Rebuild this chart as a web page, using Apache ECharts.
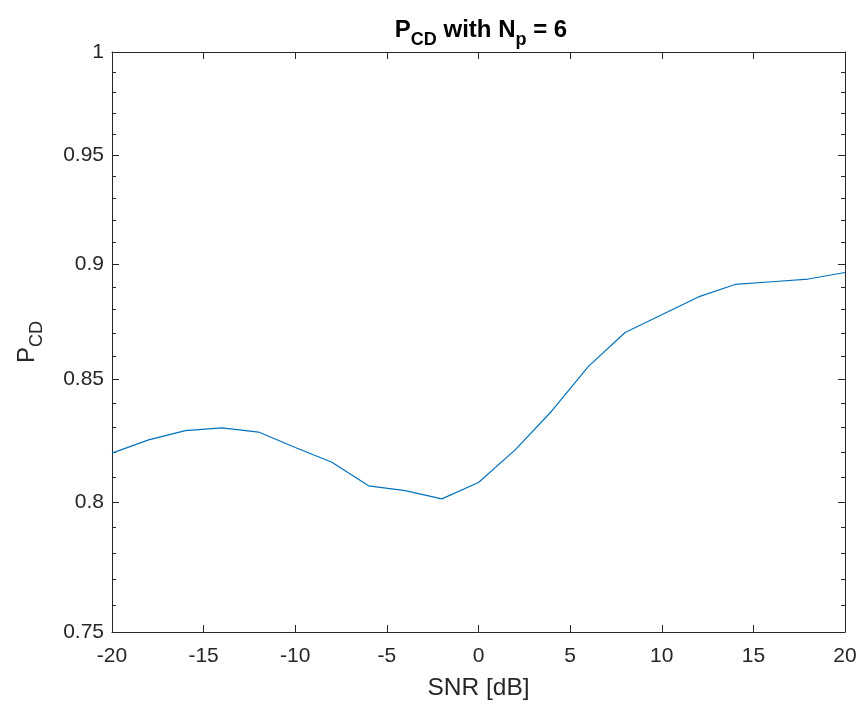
<!DOCTYPE html>
<html>
<head>
<meta charset="utf-8">
<script src="https://cdn.jsdelivr.net/npm/echarts@6/dist/echarts.min.js"></script>
<style>html,body{margin:0;padding:0;background:#fff;}#c{width:861px;height:704px;}</style>
</head>
<body>
<div id="c"></div>
<script>
const snr = [-20,-18,-16,-14,-12,-10,-8,-6,-4,-2,0,2,4,6,8,10,12,14,16,18,20];
const pcd = [0.8196,0.8250,0.8288,0.8299,0.8282,0.8219,0.8159,0.8064,0.8045,0.8012,0.8077,0.8209,0.8369,0.8556,0.8701,0.8778,0.8856,0.8911,0.8923,0.8935,0.8964];
const yMajorTicks = [0.75,0.8,0.85,0.9,0.95,1];
const yMinorTicks = [0.76,0.77,0.78,0.79,0.81,0.82,0.83,0.84,0.86,0.87,0.88,0.89,0.91,0.92,0.93,0.94,0.96,0.97,0.98,0.99];

const axisColor = '#262626';
const font = 'Liberation Sans, Arial, sans-serif';

function yAx(pos, ticks, len, labels, line) {
  return {
    type: 'log', logBase: 10, min: 0.75, max: 1, position: pos,
    axisLine: {show: line, onZero: false, lineStyle: {color: axisColor, width: 1}},
    axisTick: {show: true, inside: true, length: len, customValues: ticks, lineStyle: {color: axisColor, width: 1}},
    axisLabel: {show: labels, customValues: ticks, color: axisColor, fontSize: 21, fontFamily: font, margin: 8,
      formatter: v => String(+v.toFixed(2))},
    splitLine: {show: false}, minorTick: {show: false}, minorSplitLine: {show: false}
  };
}

const chart = echarts.init(document.getElementById('c'));
const yAxes = [
  yAx('left', yMajorTicks, 7, true, true),
  yAx('left', yMinorTicks, 4, false, false),
  yAx('right', yMajorTicks, 7, false, true),
  yAx('right', yMinorTicks, 4, false, false)
];
yAxes[0].name = '{p|P}{s|CD}';
yAxes[0].nameLocation = 'middle';
yAxes[0].nameRotate = 90;
yAxes[0].nameGap = 73;
yAxes[0].nameTextStyle = {color: axisColor, fontFamily: font,
  rich: {p: {fontSize: 24, fontFamily: font, color: axisColor, lineHeight: 28, verticalAlign: 'bottom'},
         s: {fontSize: 18, fontFamily: font, color: axisColor, lineHeight: 18, verticalAlign: 'bottom', padding: [0,0,-7,0]}}};

chart.setOption({
  animation: false,
  backgroundColor: '#fff',
  title: {
    text: '{p|P}{s|CD}{p| with N}{s|p}{p| = 6}',
    left: 476, textAlign: 'center', top: 9,
    textStyle: {
      rich: {p: {fontSize: 24, fontWeight: 'bold', fontFamily: font, color: '#000', lineHeight: 28, verticalAlign: 'bottom'},
             s: {fontSize: 18, fontWeight: 'bold', fontFamily: font, color: '#000', lineHeight: 18, verticalAlign: 'bottom', padding: [0,0,-7,0]}}
    }
  },
  grid: {left: 112, right: 16, top: 52, bottom: 72, containLabel: false, outerBoundsMode: 'none'},
  xAxis: [
    {type: 'value', min: -20, max: 20, interval: 5, position: 'bottom',
     name: 'SNR [dB]', nameLocation: 'middle', nameGap: 44,
     nameTextStyle: {color: axisColor, fontSize: 24.5, fontFamily: font},
     axisLine: {show: true, onZero: false, lineStyle: {color: axisColor, width: 1}},
     axisTick: {show: true, inside: true, length: 7, lineStyle: {color: axisColor}},
     axisLabel: {color: axisColor, fontSize: 21, fontFamily: font, margin: 14},
     splitLine: {show: false}},
    {type: 'value', min: -20, max: 20, interval: 5, position: 'top',
     axisLine: {show: true, onZero: false, lineStyle: {color: axisColor, width: 1}},
     axisTick: {show: true, inside: true, length: 7, lineStyle: {color: axisColor}},
     axisLabel: {show: false}, splitLine: {show: false}}
  ],
  yAxis: yAxes,
  series: [{
    type: 'line', xAxisIndex: 0, yAxisIndex: 0,
    data: snr.map((x, i) => [x, pcd[i]]),
    showSymbol: false, symbol: 'none',
    lineStyle: {color: '#0072BD', width: 1.2}
  }]
});
</script>
</body>
</html>
